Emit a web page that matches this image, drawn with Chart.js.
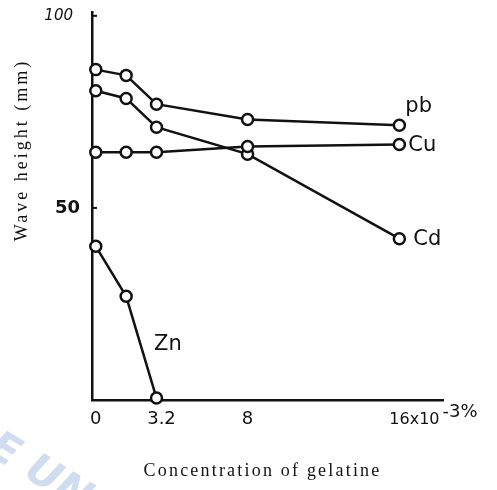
<!DOCTYPE html>
<html lang="en">
<head>
    <meta charset="UTF-8">
    <title>Wave height vs gelatine</title>
    <script src="https://cdn.jsdelivr.net/npm/chart.js"></script>
    <style>
        body { margin: 0; background: #fff; }
        canvas { display: block; }
    </style>
</head>
<body>
<canvas id="waveChart" width="497" height="490"></canvas>
<script>
    // concentration of gelatine (x10^-3 %)
    const concentrations = [0, 1.6, 3.2, 8, 16];
    const pbValues = [86, 84.5, 77, 73, 71.5];
    const cuValues = [64.5, 64.5, 64.5, 66, 66.5];
    const cdValues = [80.5, 78.5, 71, 64, 42];
    const znValues = [40, 27, 0.5];
    const seriesNames = ['pb', 'Cu', 'Cd', 'Zn'];
    const yTicks = [50, 100];
    const xTicks = [0, 3.2, 8, 16];
    const xTickLabels = ['0', '3.2', '8', '16x10'];

    function points(vals) {
        return vals.map(function (v, i) { return { x: concentrations[i], y: v }; });
    }

    const lineStyle = {
        borderColor: '#111',
        borderWidth: 2.5,
        pointRadius: 5.5,
        pointBorderWidth: 2.5,
        pointBackgroundColor: '#fff',
        pointBorderColor: '#111',
        tension: 0,
        clip: false
    };

    // labels, axis titles and tick texts drawn by hand like the original figure
    const annotations = {
        id: 'annotations',
        afterDraw(chart) {
            const ctx = chart.ctx;
            const xs = chart.scales.x, ys = chart.scales.y;
            ctx.save();
            ctx.fillStyle = '#111';
            ctx.strokeStyle = '#111';

            // small tick nubs on y axis
            ctx.lineWidth = 2;
            yTicks.forEach(function (t) {
                const py = ys.getPixelForValue(t);
                ctx.beginPath();
                ctx.moveTo(xs.left, py);
                ctx.lineTo(xs.left + 5, py);
                ctx.stroke();
            });

            // y tick labels
            ctx.textBaseline = 'middle';
            ctx.textAlign = 'right';
            ctx.font = 'italic 15px "DejaVu Sans"';
            ctx.fillText(String(yTicks[1]), xs.left - 19, ys.getPixelForValue(yTicks[1]));
            ctx.font = 'bold 18px "DejaVu Sans"';
            ctx.fillText(String(yTicks[0]), xs.left - 12, ys.getPixelForValue(yTicks[0]));

            // x tick labels
            ctx.textAlign = 'center';
            ctx.textBaseline = 'top';
            ctx.font = '18px "DejaVu Sans"';
            xTicks.forEach(function (t, i) {
                let px = xs.getPixelForValue(t);
                if (i === 1) px += 5;
                if (i === 3) {
                    ctx.textAlign = 'left';
                    ctx.font = '16px "DejaVu Sans"';
                    ctx.fillText(xTickLabels[i], px - 10, ys.bottom + 12);
                    const w = ctx.measureText(xTickLabels[i]).width;
                    ctx.font = '18px "DejaVu Sans"';
                    ctx.fillText('-3%', px - 10 + w + 3, ys.bottom + 3);
                    return;
                }
                ctx.fillText(xTickLabels[i], px, ys.bottom + 10);
            });

            // series labels
            ctx.font = '21px "DejaVu Sans"';
            ctx.textAlign = 'left';
            ctx.textBaseline = 'middle';
            const last = concentrations.length - 1;
            const lastX = xs.getPixelForValue(concentrations[last]);
            ctx.fillText(seriesNames[0], lastX + 6, ys.getPixelForValue(pbValues[last]) - 19);
            ctx.fillText(seriesNames[1], lastX + 9, ys.getPixelForValue(cuValues[last]) + 1);
            ctx.fillText(seriesNames[2], lastX + 14, ys.getPixelForValue(cdValues[last]) + 1);
            ctx.textAlign = 'center';
            ctx.fillText(seriesNames[3], xs.getPixelForValue(3.8), ys.getPixelForValue(14.5));

            // axis titles
            ctx.font = '18px "Liberation Serif"';
            ctx.letterSpacing = '2.2px';
            ctx.textAlign = 'center';
            ctx.textBaseline = 'middle';
            ctx.fillText('Concentration of gelatine', (xs.left + xs.right) / 2 - 5, 471);
            ctx.letterSpacing = '3px';
            ctx.translate(22, 150);
            ctx.rotate(-Math.PI / 2);
            ctx.fillText('Wave height (mm)', 0, 0);
            ctx.restore();

            // faint scan watermark
            ctx.save();
            ctx.translate(2, 426);
            ctx.rotate(0.55);
            ctx.fillStyle = 'rgba(150,180,225,0.45)';
            ctx.font = 'bold italic 42px "DejaVu Sans"';
            ctx.textBaseline = 'top';
            ctx.letterSpacing = '0px';
            ctx.fillText('E UN', 0, 0);
            ctx.restore();
        }
    };

    new Chart(document.getElementById('waveChart'), {
        type: 'line',
        data: {
            datasets: [
                Object.assign({ label: seriesNames[0], data: points(pbValues) }, lineStyle),
                Object.assign({ label: seriesNames[1], data: points(cuValues) }, lineStyle),
                Object.assign({ label: seriesNames[2], data: points(cdValues) }, lineStyle),
                Object.assign({ label: seriesNames[3], data: points(znValues) }, lineStyle)
            ]
        },
        options: {
            responsive: false,
            animation: false,
            layout: { padding: { left: 92, right: 54, top: 12, bottom: 90 } },
            plugins: { legend: { display: false }, tooltip: { enabled: false } },
            scales: {
                x: {
                    type: 'linear', min: -0.2, max: 18.3,
                    grid: { display: false, drawTicks: false },
                    border: { display: true, color: '#111', width: 2.5 },
                    ticks: { display: false }
                },
                y: {
                    min: 0, max: 101,
                    grid: { display: false, drawTicks: false },
                    border: { display: true, color: '#111', width: 2.5 },
                    ticks: { display: false }
                }
            }
        },
        plugins: [annotations]
    });
</script>
</body>
</html>
